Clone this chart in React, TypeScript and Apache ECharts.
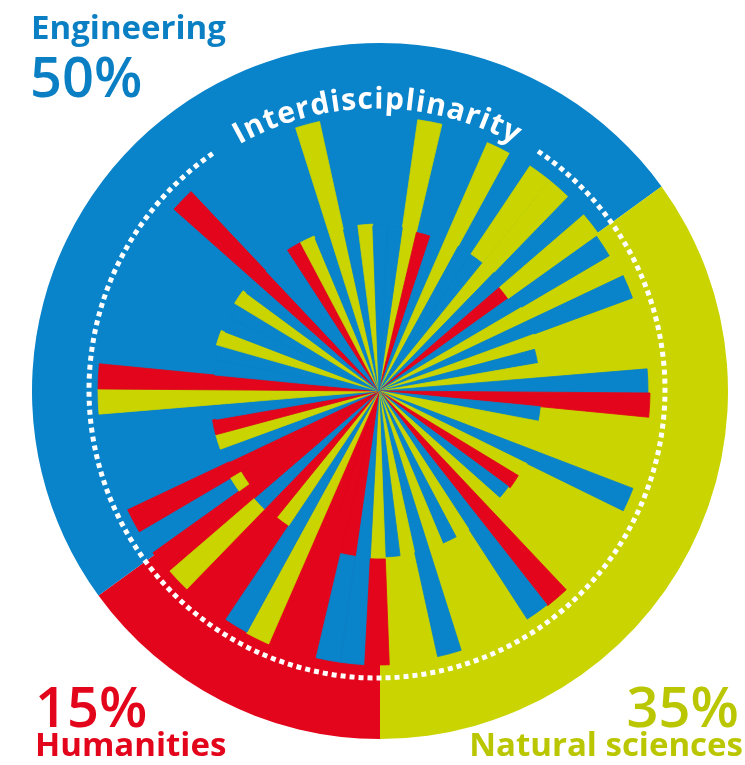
import React, { useEffect, useRef } from "react";
import * as echarts from "echarts";

const COLORS: Record<string, string> = { B: "#0983c9", G: "#c9d400", R: "#e3051b" };

// Outer ring: share of each discipline
const sectorNames = ["Humanities", "Engineering", "Natural sciences"];
const sectorShares = [15, 50, 35];
const sectorCodes = ["R", "B", "G"];

// 70 equal angular slots of the inner polar bar chart (clockwise, starting near 12 o'clock)
const slotInnerColor = [
  "G", "R", "B", "G", "B", "B", "G", "B", "R", "B",
  "G", "B", "G", "B", "G", "B", "R", "B", "G", "G",
  "B", "G", "R", "B", "G", "R", "B", "G", "B", "G",
  "B", "G", "B", "G", "B", "R", "R", "R", "G", "B",
  "G", "R", "B", "R", "R", "R", "B", "G", "R", "B",
  "G", "R", "B", "B", "G", "B", "B", "G", "B", "R",
  "B", "B", "R", "G", "B", "G", "B", "G", "B", "B",
];
const slotInnerLength = [
  274, 163, 165, 271, 165, 165, 271, 165, 159, 267,
  165, 270, 165, 161, 165, 269, 271, 162, 165, 165,
  272, 165, 163, 161, 165, 273, 272, 165, 165, 165,
  272, 165, 166, 168, 274, 167, 274, 274, 276, 275,
  162, 165, 165, 278, 160, 278, 165, 169, 169, 165,
  281, 281, 165, 165, 169, 165, 165, 169, 165, 274,
  165, 165, 168, 168, 165, 276, 165, 167, 165, 165,
];
const slotOuterColor = [
  "", "", "", "", "", "G", "", "", "G", "",
  "", "", "", "", "", "", "", "", "", "",
  "", "", "", "", "", "", "", "", "", "",
  "", "", "", "R", "", "B", "", "", "", "",
  "", "", "G", "", "G", "", "", "", "", "",
  "", "", "", "", "", "", "", "", "", "",
  "", "", "", "", "", "", "", "", "", "",
];
const slotOuterLength = [
  0, 0, 0, 0, 0, 271, 0, 0, 270, 0,
  0, 0, 0, 0, 0, 0, 0, 0, 0, 0,
  0, 0, 0, 0, 0, 0, 0, 0, 0, 0,
  0, 0, 0, 274, 0, 274, 0, 0, 0, 0,
  0, 0, 276, 0, 172, 0, 0, 0, 0, 0,
  0, 0, 0, 0, 0, 0, 0, 0, 0, 0,
  0, 0, 0, 0, 0, 0, 0, 0, 0, 0,
];
const slotLabels = slotInnerColor.map((_, i) => "S" + (i + 1));

const ringTitle = "Interdisciplinarity";

export default function App() {
  const ref = useRef<HTMLDivElement>(null);
  useEffect(() => {
    if (!ref.current) return;
    const chart = echarts.init(ref.current, null, { renderer: "svg" });

    const innerData = slotInnerLength.map((v, i) => {
      const c = COLORS[slotInnerColor[i]];
      return { value: v, itemStyle: { color: c, borderColor: c, borderWidth: 0.8 } };
    });
    const outerData = slotOuterLength.map((v, i) => {
      const code = slotOuterColor[i];
      return code
        ? { value: v - slotInnerLength[i], itemStyle: { color: COLORS[code], borderColor: COLORS[code], borderWidth: 0.8 } }
        : { value: 0, itemStyle: { color: "rgba(0,0,0,0)", borderWidth: 0 } };
    });

    // curved title
    const font = 'bold 30px "Open Sans"';
    const ctx = document.createElement("canvas").getContext("2d")!;
    ctx.font = font;
    const chars = ringTitle.split("");
    const widths = chars.map((c) => ctx.measureText(c).width);
    const TCX = 377, TCY = 391, TR = 294;
    const firstB = (-28.2 * Math.PI) / 180;
    const lastB = (27.4 * Math.PI) / 180;
    const arcLen = (lastB - firstB) * TR;
    const total = widths.reduce((a, b) => a + b, 0);
    const natural = total - widths[0] / 2 - widths[widths.length - 1] / 2;
    const extra = (arcLen - natural) / (chars.length - 1);
    let cum = 0;
    const titleEls: any[] = chars.map((c, i) => {
      if (i > 0) cum += widths[i - 1] / 2 + widths[i] / 2 + extra;
      const b = firstB + cum / TR;
      return {
        type: "text",
        x: TCX + TR * Math.sin(b),
        y: TCY - TR * Math.cos(b),
        rotation: -b,
        z: 20,
        style: {
          text: c,
          fill: "#ffffff",
          font,
          align: "center",
          verticalAlign: "middle",
          textAlign: "center",
          textVerticalAlign: "middle",
        },
      };
    });

    const label = (text: string, x: number, y: number, size: number, weight: number, color: string, align: string) => ({
      type: "text",
      x,
      y,
      z: 20,
      style: {
        text,
        fill: color,
        font: `${weight} ${size}px "Open Sans"`,
        lineHeight: Math.round(size * 0.75),
        align,
        verticalAlign: "middle",
        textAlign: align,
        textVerticalAlign: "middle",
      },
    });

    const deg = Math.PI / 180;
    const option: any = {
      animation: false,
      polar: { center: [379, 391], radius: 300 },
      angleAxis: {
        type: "category",
        data: slotLabels,
        startAngle: 81.87,
        clockwise: true,
        axisLine: { show: false },
        axisTick: { show: false },
        axisLabel: { show: false },
        splitLine: { show: false },
      },
      radiusAxis: {
        min: 0,
        max: 300,
        axisLine: { show: false },
        axisTick: { show: false },
        axisLabel: { show: false },
        splitLine: { show: false },
      },
      series: [
        {
          type: "pie",
          center: [380, 391],
          radius: 348,
          startAngle: 270,
          clockwise: true,
          silent: true,
          z: 1,
          label: { show: false },
          labelLine: { show: false },
          itemStyle: { borderWidth: 0 },
          data: sectorNames.map((n, i) => ({
            name: n,
            value: sectorShares[i],
            itemStyle: { color: COLORS[sectorCodes[i]] },
          })),
        },
        {
          type: "bar",
          coordinateSystem: "polar",
          stack: "slots",
          barCategoryGap: "0%",
          silent: true,
          z: 3,
          data: innerData,
        },
        {
          type: "bar",
          coordinateSystem: "polar",
          stack: "slots",
          barCategoryGap: "0%",
          silent: true,
          z: 3,
          data: outerData,
        },
      ],
      graphic: [
        {
          type: "arc",
          z: 15,
          shape: { cx: 377, cy: 390, r: 288, startAngle: (34 - 90) * deg, endAngle: (326 - 90) * deg, clockwise: true },
          style: { stroke: "#ffffff", lineWidth: 5, lineDash: [5, 4], fill: null },
        },
        ...titleEls,
        label("Engineering", 31, 26, 33, 700, "#0a7fc3", "left"),
        label("50%", 30, 75, 56, 600, "#0a7fc3", "left"),
        label("15%", 35, 705, 56, 600, "#e3051b", "left"),
        label("Humanities", 35, 743, 33, 700, "#e3051b", "left"),
        label("35%", 739, 705, 56, 600, "#b9c600", "right"),
        label("Natural sciences", 743, 743, 33, 700, "#b9c600", "right"),
      ],
    };
    chart.setOption(option);
    return () => chart.dispose();
  }, []);
  return <div ref={ref} style={{ position: "fixed", left: 0, top: 0, width: 745, height: 765 }} />;
}
